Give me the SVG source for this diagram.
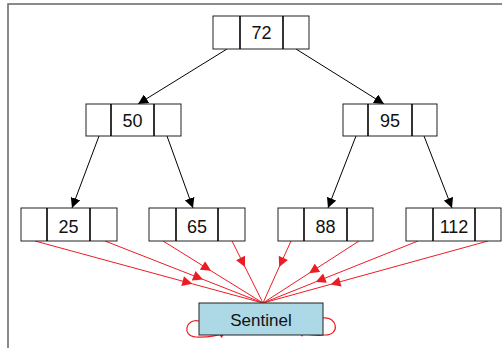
<svg xmlns="http://www.w3.org/2000/svg" width="502" height="348" viewBox="0 0 502 348">
<defs>
<style>
.box{fill:#fff;stroke:#222;stroke-width:1}
.div{stroke:#000;stroke-width:1.6}
.lbl{font-family:"Liberation Sans",Arial,sans-serif;font-size:18px;fill:#111;text-anchor:middle}
.blk{stroke:#000;stroke-width:1;fill:none;marker-end:url(#ah)}
.red{stroke:#ED1C24;stroke-width:1;fill:none;marker-mid:url(#rh)}
.loop{stroke:#ED1C24;stroke-width:1.2;fill:none}
.rtri{fill:#ED1C24}
</style>
<marker id="ah" viewBox="0 0 10 10" refX="10" refY="5" markerWidth="10" markerHeight="10" markerUnits="userSpaceOnUse" orient="auto">
<path d="M0,0 L10,5 L0,10 z" fill="#000"/>
</marker>
<marker id="rh" viewBox="0 0 10 10" refX="10" refY="5" markerWidth="11" markerHeight="10" markerUnits="userSpaceOnUse" orient="auto">
<path d="M0,0 L10,5 L0,10 z" fill="#ED1C24"/>
</marker>
</defs>
<rect x="8" y="4" width="500" height="350" fill="#fff" stroke="#666" stroke-width="1.5"/>

<g id="connectors">
<path class="blk" d="M227,49 L138,104"/>
<path class="blk" d="M296,49 L384,104"/>
<path class="blk" d="M99,136 L72,208"/>
<path class="blk" d="M167,136 L193,208"/>
<path class="blk" d="M356,136 L328,208"/>
<path class="blk" d="M424,136 L452,208"/>

<path class="red" d="M35,241 L192.3,283.8 L263,303"/>
<path class="red" d="M105,241 L203,279.4 L263,303"/>
<path class="red" d="M163,241 L211,270.8 L263,303"/>
<path class="red" d="M232,241 L245,267 L263,303"/>
<path class="red" d="M291,241 L279.2,267 L263,303"/>
<path class="red" d="M359,241 L309.1,273.2 L263,303"/>
<path class="red" d="M418,241 L315.7,281.9 L263,303"/>
<path class="red" d="M488,241 L330.5,284.4 L263,303"/>

<path class="loop" d="M199,321 C186,318 181,336 196,337 C205,338 212,336 219,335"/>
<polygon class="rtri" points="216,330 227,330 221.5,338"/>
<path class="loop" d="M323,318 C337,316 341,335 325,335 C316,336 311,335 305,334"/>
<polygon class="rtri" points="297,327 307,327 302,337"/>
</g>

<g id="n72">
<rect class="box" x="213" y="16" width="96" height="33"/>
<line class="div" x1="240" y1="16" x2="240" y2="49"/>
<line class="div" x1="283" y1="16" x2="283" y2="49"/>
<text class="lbl" x="261.5" y="39">72</text>
</g>
<g id="n50">
<rect class="box" x="86" y="104" width="95" height="32"/>
<line class="div" x1="111" y1="104" x2="111" y2="136"/>
<line class="div" x1="154" y1="104" x2="154" y2="136"/>
<text class="lbl" x="132.5" y="127">50</text>
</g>
<g id="n95">
<rect class="box" x="343" y="104" width="94" height="32"/>
<line class="div" x1="368" y1="104" x2="368" y2="136"/>
<line class="div" x1="412" y1="104" x2="412" y2="136"/>
<text class="lbl" x="390" y="127">95</text>
</g>
<g id="n25">
<rect class="box" x="21" y="208" width="96" height="33"/>
<line class="div" x1="47" y1="208" x2="47" y2="241"/>
<line class="div" x1="90" y1="208" x2="90" y2="241"/>
<text class="lbl" x="68.5" y="233">25</text>
</g>
<g id="n65">
<rect class="box" x="149" y="208" width="96" height="33"/>
<line class="div" x1="176" y1="208" x2="176" y2="241"/>
<line class="div" x1="218" y1="208" x2="218" y2="241"/>
<text class="lbl" x="197" y="233">65</text>
</g>
<g id="n88">
<rect class="box" x="278" y="208" width="95" height="33"/>
<line class="div" x1="304" y1="208" x2="304" y2="241"/>
<line class="div" x1="347" y1="208" x2="347" y2="241"/>
<text class="lbl" x="325.5" y="233">88</text>
</g>
<g id="n112">
<rect class="box" x="406" y="208" width="95" height="33"/>
<line class="div" x1="433" y1="208" x2="433" y2="241"/>
<line class="div" x1="475" y1="208" x2="475" y2="241"/>
<text class="lbl" x="454" y="233">112</text>
</g>
<g id="sentinel">
<rect x="199" y="303" width="124" height="32" fill="#ADD8E6" stroke="#222" stroke-width="1"/>
<text class="lbl" x="261" y="326" style="font-size:17px">Sentinel</text>
</g>
</svg>
